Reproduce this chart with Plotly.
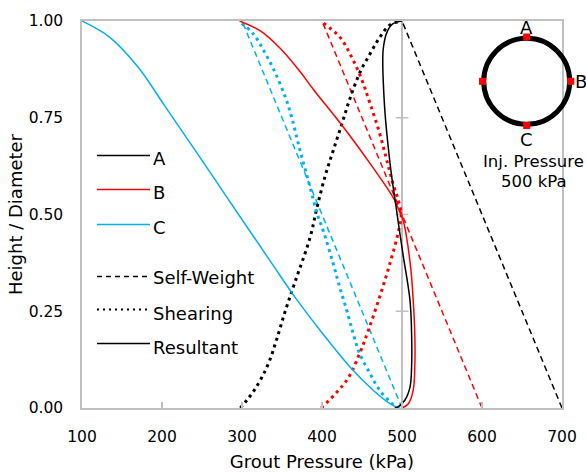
import plotly.graph_objects as go

# ---------------- data ----------------
inj_pressure = 500  # kPa

# Self-weight component (linear)
h_sw = [0.0, 1.0]
sw_A = [700, 500]
sw_B = [600, 400]
sw_C = [500, 300]

# Shearing component
h_sh_A = [0.0, 0.02, 0.045, 0.08, 0.12, 0.175, 0.25, 0.33, 0.44, 0.52, 0.60, 0.665, 0.735, 0.80, 0.865, 0.915, 0.957, 0.99, 1.0]
sh_A = [298, 306, 315, 325, 334, 343, 354, 367, 385, 394, 404, 414, 425, 435, 447, 460, 472, 485, 500]

h_sh_B = [0.0, 0.072, 0.141, 0.201, 0.287, 0.374, 0.46, 0.50, 0.54, 0.571, 0.64, 0.71, 0.787, 0.847, 0.907, 0.959, 1.0]
sh_B = [399, 431, 447, 458, 472, 485, 496, 499, 495, 490, 481, 472, 460, 450, 437, 422, 398]

h_sh_C = [0.0, 0.003, 0.016, 0.046, 0.089, 0.141, 0.192, 0.252, 0.313, 0.373, 0.455, 0.502, 0.571, 0.67, 0.752, 0.804, 0.873, 0.924, 0.967, 1.0]
sh_C = [497, 493, 485, 472, 460, 447, 439, 431, 422, 414, 402, 394, 385, 372, 362, 354, 340, 327, 314, 296]

# Resultant
h_res_A = [0.0, 0.003, 0.02, 0.054, 0.106, 0.192, 0.278, 0.394, 0.47, 0.536, 0.60, 0.67, 0.756, 0.842, 0.886, 0.929, 0.97, 0.992, 1.0]
res_A = [491, 495, 503.5, 510, 512, 512, 510, 501.5, 496, 491.5, 487, 483, 479, 476.6, 476, 476.6, 481, 488, 500]

h_res_B = [0.0, 0.011, 0.046, 0.106, 0.192, 0.278, 0.36, 0.45, 0.484, 0.51, 0.536, 0.557, 0.632, 0.726, 0.821, 0.868, 0.929, 0.975, 1.0]
res_B = [500, 508, 514, 516, 516, 514, 511, 505, 501.6, 496.5, 491, 485, 460, 426.6, 390, 373, 348, 322.5, 297]

h_res_C = [0.0, 0.011, 0.046, 0.106, 0.201, 0.287, 0.373, 0.545, 0.640, 0.782, 0.881, 0.959, 1.0]
res_C = [495, 485, 464, 435, 397.5, 366, 337.5, 281, 250, 203, 170, 134, 100]

x_ticks = [100, 200, 300, 400, 500, 600, 700]
y_ticks = [0.0, 0.25, 0.5, 0.75, 1.0]

# ---------------- style ----------------
BLACK = "#000000"
RED = "#FF0000"
BLUE = "#00B0F0"
GRAY = "#BFBFBF"
FONT = "DejaVu Sans"
W, H = 586, 474
PL, PR, PT, PB = 82, 562, 21, 408  # plot area in pixels

DASH = "6px,4px"
DOT = "3px,4px"


def px(xp):
    return (xp - PL) / (PR - PL)


def py(yp):
    return (PB - yp) / (PB - PT)


fig = go.Figure()


def add(x, y, color, dash, width, spline=True):
    fig.add_trace(go.Scatter(
        x=x, y=y, mode="lines",
        line=dict(color=color, dash=dash, width=width,
                  shape="spline" if spline else "linear", smoothing=1.0,
                  simplify=False),
        showlegend=False, hoverinfo="skip"))


add(sw_A, h_sw, BLACK, DASH, 1.5, False)
add(sw_B, h_sw, RED, DASH, 1.5, False)
add(sw_C, h_sw, BLUE, DASH, 1.5, False)
add(sh_A, h_sh_A, BLACK, DOT, 3)
add(sh_B, h_sh_B, RED, DOT, 3)
add(sh_C, h_sh_C, BLUE, DOT, 3)
add(res_C, h_res_C, BLUE, "solid", 1.5)
add(res_B, h_res_B, RED, "solid", 1.5)
add(res_A, h_res_A, BLACK, "solid", 1.5)

shapes = []
# vertical axis line at injection pressure with cross ticks
shapes.append(dict(type="line", xref="x", yref="y", x0=inj_pressure, x1=inj_pressure,
                   y0=0, y1=1, line=dict(color=GRAY, width=2), layer="below"))
for yt in y_ticks[1:-1]:
    shapes.append(dict(type="line", xref="x", yref="y", x0=inj_pressure - 8, x1=inj_pressure + 8,
                       y0=yt, y1=yt, line=dict(color=GRAY, width=1.5), layer="below"))

annotations = []
# manual legend
leg_items = [
    ("A", BLACK, "solid", 1.5, 155.5, 158),
    ("B", RED, "solid", 1.5, 189.5, 192.5),
    ("C", BLUE, "solid", 1.5, 224.5, 227.5),
    ("Self-Weight", BLACK, "5px,4px", 1.3, 276.5, 277.5),
    ("Shearing", BLACK, "2px,4px", 2.2, 309.5, 313),
    ("Resultant", BLACK, "solid", 1.3, 343.5, 347.5),
]
for name, col, dash, wd, ly, ty in leg_items:
    shapes.append(dict(type="line", xref="paper", yref="paper", x0=px(97), x1=px(150),
                       y0=py(ly), y1=py(ly), line=dict(color=col, dash=dash, width=wd)))
    annotations.append(dict(xref="paper", yref="paper", x=px(151), y=py(ty), text=name,
                            showarrow=False, xanchor="left", yanchor="middle",
                            font=dict(family=FONT, size=18, color=BLACK)))

# inset circle
cx, cy, r = 526.7, 81.3, 43
shapes.append(dict(type="circle", xref="paper", yref="paper",
                   x0=px(cx - r), x1=px(cx + r), y0=py(cy + r), y1=py(cy - r),
                   line=dict(color=BLACK, width=5)))
for mx, my in [(cx, 37), (cx, 125.5), (482.5, cy), (570.8, cy)]:
    shapes.append(dict(type="rect", xref="paper", yref="paper",
                       x0=px(mx - 3.5), x1=px(mx + 3.5), y0=py(my + 3.5), y1=py(my - 3.5),
                       line=dict(width=0), fillcolor=RED))
for txt, tx, ty, sz in [("A", cx, 27.5, 18), ("B", 581, 81, 18), ("C", cx, 139, 18),
                        ("Inj. Pressure", 533.5, 161, 16.5),
                        (f"{inj_pressure} kPa", 533.5, 181.5, 16.5)]:
    annotations.append(dict(xref="paper", yref="paper", x=px(tx), y=py(ty), text=txt,
                            showarrow=False, xanchor="center", yanchor="middle",
                            font=dict(family=FONT, size=sz, color=BLACK)))

fig.update_layout(
    width=W, height=H,
    margin=dict(l=PL, r=W - PR, t=PT, b=H - PB, autoexpand=False),
    paper_bgcolor="white", plot_bgcolor="white",
    font=dict(family=FONT, color=BLACK),
    shapes=shapes, annotations=annotations, showlegend=False,
    xaxis=dict(range=[100, 700], tickvals=x_ticks, ticks="inside", ticklen=6,
               tickcolor=GRAY, tickwidth=1.5, showline=True, linecolor=GRAY, linewidth=1.5,
               mirror=True, showgrid=False, zeroline=False,
               tickfont=dict(family=FONT, size=15.5, color=BLACK), ticklabelstandoff=14,
               title=dict(text="Grout Pressure (kPa)", standoff=10,
                          font=dict(family=FONT, size=18, color=BLACK))),
    yaxis=dict(range=[0, 1], tickvals=y_ticks, tickformat=".2f", ticks="",
               showline=True, linecolor=GRAY, linewidth=1.5, mirror=True,
               showgrid=False, zeroline=False,
               tickfont=dict(family=FONT, size=15.5, color=BLACK), ticklabelstandoff=14,
               title=dict(text="Height / Diameter", standoff=1,
                          font=dict(family=FONT, size=18, color=BLACK))),
)

fig.write_html("out.html")
